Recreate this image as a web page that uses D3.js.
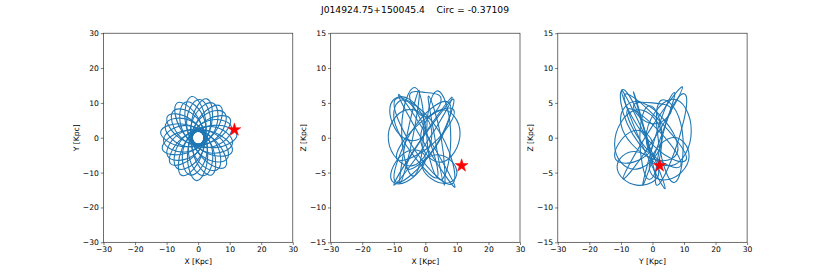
<!DOCTYPE html>
<html>
<head>
<meta charset="utf-8">
<script src="https://cdn.jsdelivr.net/npm/d3@7"></script>
<style>
  body { margin: 0; background: #fff; }
  svg { display: block; font-family: "DejaVu Sans", sans-serif; }
</style>
</head>
<body>
<div id="chart"></div>
<script>
// figure size
const width = 830;
const height = 277;

const titleText = "J014924.75+150045.4\u00a0\u00a0\u00a0\u00a0Circ = -0.37109";

// tick values
const xyTicks = [-30, -20, -10, 0, 10, 20, 30];
const zTicks = [-15, -10, -5, 0, 5, 10, 15];

// current position of the star (x, y, z in kpc)
const starPos = [11.5, 2.3, -4.0];

const xyLoops = [
    [[-2.08, 11.82], [-4.02, 4.36], [0.35, -1.97], [2.28, 5.48]],
    [[2.78, 11.16], [-1.95, 5.38], [-0.48, -1.94], [4.25, 3.84]],
    [[7.08, 9.06], [0.41, 5.71], [-1.23, -1.58], [5.45, 1.77]],
    [[10.15, 5.39], [2.69, 5.06], [-1.77, -0.94], [5.69, -0.60]],
    [[12.28, 0.86], [4.92, 3.55], [-2.0, -0.14], [5.36, -2.83]],
    [[10.81, -3.93], [5.56, 1.39], [-1.88, 0.68], [3.38, -4.63]],
    [[8.63, -8.34], [5.82, -1.18], [-1.44, 1.39], [1.38, -5.78]],
    [[4.31, -10.66], [4.75, -3.20], [-0.75, 1.85], [-1.19, -5.60]],
    [[-0.43, -12.29], [3.02, -5.25], [0.07, 2.0], [-3.38, -5.03]],
    [[-5.26, -10.79], [0.69, -5.90], [0.88, 1.80], [-5.07, -3.10]],
    [[-8.81, -7.39], [-1.58, -5.50], [1.53, 1.29], [-5.70, -0.60]],
    [[-11.34, -3.26], [-3.83, -4.43], [1.92, 0.55], [-5.59, 1.73]],
    [[-11.88, 1.67], [-5.39, -2.47], [1.98, -0.28], [-4.51, 3.87]],
    [[-9.75, 6.10], [-5.73, -0.19], [1.70, -1.06], [-2.33, 5.23]],
    [[-6.71, 9.95], [-5.45, 2.36], [1.12, -1.66], [-0.15, 5.94]],
    [[-4.13, 10.20], [-5.15, 2.60], [0.86, -2.13], [1.89, 5.46]],
    [[0.39, 10.99], [-3.65, 4.48], [-0.08, -2.30], [3.95, 4.22]],
    [[4.82, 9.89], [-1.51, 5.57], [-1.01, -2.07], [5.33, 2.25]],
    [[8.43, 7.07], [0.89, 5.71], [-1.76, -1.48], [5.77, -0.11]],
    [[10.57, 3.04], [3.13, 4.85], [-2.21, -0.63], [5.23, -2.45]],
    [[10.89, -1.53], [4.84, 3.16], [-2.28, 0.32], [3.78, -4.36]],
    [[9.33, -5.83], [5.70, 0.91], [-1.95, 1.22], [1.68, -5.53]],
    [[6.15, -9.12], [5.58, -1.49], [-1.29, 1.91], [-0.72, -5.73]],
    [[1.91, -10.84], [4.50, -3.62], [-0.40, 2.27], [-2.98, -4.94]],
    [[-2.66, -10.67], [2.64, -5.14], [0.56, 2.23], [-4.74, -3.30]],
    [[-6.78, -8.67], [0.31, -5.77], [1.42, 1.81], [-5.67, -1.09]],
    [[-9.71, -5.16], [-2.06, -5.40], [2.03, 1.08], [-5.62, 1.32]],
    [[-10.98, -0.77], [-4.07, -4.09], [2.30, 0.16], [-4.61, 3.49]],
    [[-10.34, 3.76], [-5.39, -2.08], [2.16, -0.79], [-2.79, 5.06]],
    [[-7.91, 7.65], [-5.77, 0.29], [1.65, -1.60], [-0.49, 5.75]]
];

// orbit in the X-Z plane, loops [x, z]
const xzLoops = [
    [[-10.0, -6.8], [-1.3, -0.2], [8.5, 5.8], [0.1, -0.9]],
    [[9.4, -7.1], [1.1, -0.1], [-8.5, 6.2], [-0.2, -0.9]],
    [[-9.5, -6.3], [-3.5, 1.5], [7.5, 5.0], [3.0, -1.5]],
    [[8.8, -6.5], [3.5, 1.5], [-9.5, 5.5], [-3.0, -2.0]],
    [[-3.3, 7.2], [-7.5, 1.5], [-4.0, -5.5], [-0.5, 1.0]],
    [[3.6, 6.7], [0.5, 0.0], [5.0, -6.0], [8.0, 1.0]],
    [[-11.7, -0.4], [-6.0, 4.0], [2.0, 1.0], [-4.0, -4.0]],
    [[11.0, 0.6], [5.0, 4.0], [-1.5, 0.0], [5.0, -3.5]],
    [[-11.2, 4.4], [-5.0, 5.5], [0.0, 1.0], [-7.0, 0.0]],
    [[-11.0, -5.5], [-6.0, -2.0], [0.0, -3.0], [-6.0, -6.3]],
    [[10.0, -5.0], [5.0, -2.5], [-1.0, -4.0], [5.0, -6.5]],
    [[-5.0, 6.0], [0.0, 6.5], [5.0, 5.5], [0.0, 3.0]],
    [[-8.0, -6.5], [-6.0, 0.0], [-2.0, 6.8], [-4.0, 0.0]],
    [[6.0, -6.8], [3.0, 0.0], [1.0, 6.0], [5.0, 0.0]],
    [[-10.0, 3.0], [-4.0, 4.5], [4.0, -5.0], [-3.0, -3.0]],
    [[9.0, 5.0], [4.0, 3.0], [-6.0, -4.0], [2.0, -2.0]],
    [[-9.0, -3.0], [-2.0, 2.0], [9.0, 4.0], [2.0, -1.0]]
];

// orbit in the Y-Z plane, loops [y, z]
const yzLoops = [
    [[-9.8, 6.8], [-2.3, 0.2], [4.0, -7.3], [-3.6, -0.7]],
    [[-9.3, -5.9], [-0.7, 1.2], [9.5, 7.3], [0.9, 0.1]],
    [[-9.0, 6.0], [1.0, 3.0], [10.8, -3.0], [0.0, -1.0]],
    [[12.3, 1.0], [6.0, 5.5], [-2.0, 0.0], [6.0, -4.0]],
    [[-12.0, -0.9], [-5.0, 4.0], [3.0, 0.0], [-5.0, -4.5]],
    [[11.6, -2.8], [6.0, 0.0], [-1.0, -4.0], [5.0, -6.0]],
    [[-11.2, -4.2], [-5.0, -2.0], [2.0, -5.0], [-5.0, -6.8]],
    [[-0.9, 4.6], [-4.0, 0.0], [-1.0, -6.0], [3.0, 0.0]],
    [[10.8, 5.8], [5.0, 3.0], [1.0, -6.5], [7.0, -2.0]],
    [[-9.8, 6.8], [-5.0, 4.0], [-1.0, -2.0], [-8.0, 2.0]],
    [[-6.0, 4.5], [0.0, 5.0], [6.0, 4.0], [0.0, 2.0]],
    [[8.0, -6.0], [9.0, 2.0], [2.0, 5.0], [3.0, -3.0]],
    [[-6.0, 6.5], [-3.0, 2.0], [1.0, -5.5], [-2.0, 0.0]],
    [[7.0, 6.0], [3.0, 3.0], [-3.0, -6.5], [1.0, -2.0]],
    [[-10.0, 2.0], [-3.0, 5.0], [8.0, -1.0], [0.0, -3.0]],
    [[9.0, -4.0], [2.0, 1.0], [-8.0, 4.0], [-1.0, -2.0]],
    [[-12.0, -2.5], [-6.0, 1.0], [0.0, -1.0], [-6.0, -3.5]]
];

const orbitColor = "#1f77b4";

// panel layout
const panels = [
    { left: 103.5, loops: xyLoops, yDomain: [-30, 30], yTicks: xyTicks, xLabel: "X [Kpc]", yLabel: "Y [Kpc]", star: [starPos[0], starPos[1]] },
    { left: 330.7, loops: xzLoops, yDomain: [-15, 15], yTicks: zTicks, xLabel: "X [Kpc]", yLabel: "Z [Kpc]", star: [starPos[0], starPos[2]] },
    { left: 557.8, loops: yzLoops, yDomain: [-15, 15], yTicks: zTicks, xLabel: "Y [Kpc]", yLabel: "Z [Kpc]", star: [starPos[1], starPos[2]] }
];
const panelW = 189.3;
const plotTop = 33.2;
const plotBottom = 242.3;

const svg = d3.select("#chart")
    .append("svg")
    .attr("width", width)
    .attr("height", height);

svg.append("text")
    .attr("x", 415)
    .attr("y", 12.5)
    .attr("text-anchor", "middle")
    .attr("font-size", "9.2px")
    .attr("fill", "#000")
    .text(titleText);

panels.forEach(p => {
    const x = d3.scaleLinear().domain([-30, 30]).range([p.left, p.left + panelW]);
    const y = d3.scaleLinear().domain(p.yDomain).range([plotBottom, plotTop]);

    const g = svg.append("g");

    const line = d3.line()
        .x(d => x(d[0]))
        .y(d => y(d[1]))
        .curve(d3.curveCardinalClosed.tension(-0.5));

    g.append("g")
        .selectAll("path")
        .data(p.loops)
        .enter().append("path")
        .attr("d", line)
        .attr("fill", "none")
        .attr("stroke", orbitColor)
        .attr("stroke-width", 1.1);

    // star marker
    g.append("path")
        .attr("d", d3.symbol().type(d3.symbolStar).size(52)())
        .attr("transform", `translate(${x(p.star[0])},${y(p.star[1])})`)
        .attr("fill", "red")
        .attr("stroke", "red")
        .attr("stroke-width", 0.5);

    // axes
    const xAxis = g.append("g")
        .attr("transform", `translate(0,${plotBottom})`)
        .call(d3.axisBottom(x).tickValues(xyTicks).tickSize(2.7).tickPadding(2).tickSizeOuter(0));
    const yAxis = g.append("g")
        .attr("transform", `translate(${p.left},0)`)
        .call(d3.axisLeft(y).tickValues(p.yTicks).tickSize(2.7).tickPadding(2).tickSizeOuter(0));

    [xAxis, yAxis].forEach(a => {
        a.select(".domain").remove();
        a.selectAll("line").attr("stroke", "#222").attr("stroke-width", 0.6);
        a.selectAll("text")
            .attr("font-size", "7.6px")
            .attr("font-family", "DejaVu Sans, sans-serif")
            .attr("fill", "#000");
    });

    // frame
    g.append("rect")
        .attr("x", p.left)
        .attr("y", plotTop)
        .attr("width", panelW)
        .attr("height", plotBottom - plotTop)
        .attr("fill", "none")
        .attr("stroke", "#222")
        .attr("stroke-width", 0.65);

    // axis labels
    g.append("text")
        .attr("x", p.left + panelW / 2)
        .attr("y", 264)
        .attr("text-anchor", "middle")
        .attr("font-size", "7.6px")
        .text(p.xLabel);

    g.append("text")
        .attr("transform", `translate(${p.left - 25},${(plotTop + plotBottom) / 2}) rotate(-90)`)
        .attr("text-anchor", "middle")
        .attr("font-size", "7.6px")
        .text(p.yLabel);
});
</script>
</body>
</html>
